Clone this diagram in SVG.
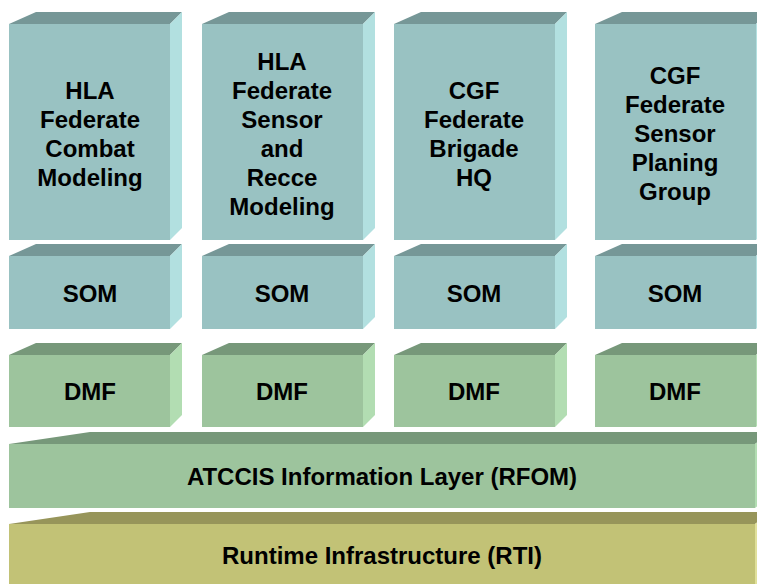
<svg xmlns="http://www.w3.org/2000/svg" width="757" height="584" viewBox="0 0 757 584">
  <style>
    .lbl { font-family: "Liberation Sans", Arial, sans-serif; font-weight: bold; font-size: 24px; fill: #000; text-anchor: middle; }
    .b-front { fill: #99C2C2; }
    .b-top { fill: #769797; }
    .b-side { fill: #B2E0E0; }
    .g-front { fill: #9DC49D; }
    .g-top { fill: #77987A; }
    .g-side { fill: #B2DDB2; }
    .y-front { fill: #C2C276; }
    .y-top { fill: #97955A; }
    .y-side { fill: #E0E09A; }
  </style>
  <rect width="757" height="584" fill="#fff"/>

  <!-- Federate boxes -->
  <g id="fed1">
    <polygon class="b-top" points="9,24 36,12 182,12 170,24"/>
    <polygon class="b-side" points="170,24 182,12 182,228 170,240"/>
    <rect class="b-front" x="9" y="24" width="161" height="216"/>
    <text class="lbl" x="90" y="99">HLA</text>
    <text class="lbl" x="90" y="128">Federate</text>
    <text class="lbl" x="90" y="157">Combat</text>
    <text class="lbl" x="90" y="186">Modeling</text>
  </g>
  <g id="fed2">
    <polygon class="b-top" points="202,24 229,12 375,12 363,24"/>
    <polygon class="b-side" points="363,24 375,12 375,228 363,240"/>
    <rect class="b-front" x="202" y="24" width="161" height="216"/>
    <text class="lbl" x="282" y="70">HLA</text>
    <text class="lbl" x="282" y="99">Federate</text>
    <text class="lbl" x="282" y="128">Sensor</text>
    <text class="lbl" x="282" y="157">and</text>
    <text class="lbl" x="282" y="186">Recce</text>
    <text class="lbl" x="282" y="215">Modeling</text>
  </g>
  <g id="fed3">
    <polygon class="b-top" points="394,24 421,12 567,12 555,24"/>
    <polygon class="b-side" points="555,24 567,12 567,228 555,240"/>
    <rect class="b-front" x="394" y="24" width="161" height="216"/>
    <text class="lbl" x="474" y="99">CGF</text>
    <text class="lbl" x="474" y="128">Federate</text>
    <text class="lbl" x="474" y="157">Brigade</text>
    <text class="lbl" x="474" y="186">HQ</text>
  </g>
  <g id="fed4">
    <polygon class="b-top" points="595,24 622,12 768,12 756,24"/>
    <polygon class="b-side" points="756,24 768,12 768,228 756,240"/>
    <rect class="b-front" x="595" y="24" width="161" height="216"/>
    <text class="lbl" x="675" y="84">CGF</text>
    <text class="lbl" x="675" y="113">Federate</text>
    <text class="lbl" x="675" y="142">Sensor</text>
    <text class="lbl" x="675" y="171">Planing</text>
    <text class="lbl" x="675" y="200">Group</text>
  </g>

  <!-- SOM boxes -->
  <g id="som1">
    <polygon class="b-top" points="9,256 36,244 182,244 170,256"/>
    <polygon class="b-side" points="170,256 182,244 182,317 170,329"/>
    <rect class="b-front" x="9" y="256" width="161" height="73"/>
    <text class="lbl" x="90" y="302">SOM</text>
  </g>
  <g id="som2">
    <polygon class="b-top" points="202,256 229,244 375,244 363,256"/>
    <polygon class="b-side" points="363,256 375,244 375,317 363,329"/>
    <rect class="b-front" x="202" y="256" width="161" height="73"/>
    <text class="lbl" x="282" y="302">SOM</text>
  </g>
  <g id="som3">
    <polygon class="b-top" points="394,256 421,244 567,244 555,256"/>
    <polygon class="b-side" points="555,256 567,244 567,317 555,329"/>
    <rect class="b-front" x="394" y="256" width="161" height="73"/>
    <text class="lbl" x="474" y="302">SOM</text>
  </g>
  <g id="som4">
    <polygon class="b-top" points="595,256 622,244 768,244 756,256"/>
    <polygon class="b-side" points="756,256 768,244 768,317 756,329"/>
    <rect class="b-front" x="595" y="256" width="161" height="73"/>
    <text class="lbl" x="675" y="302">SOM</text>
  </g>

  <!-- DMF boxes -->
  <g id="dmf1">
    <polygon class="g-top" points="9,355 36,343 182,343 170,355"/>
    <polygon class="g-side" points="170,355 182,343 182,415 170,427"/>
    <rect class="g-front" x="9" y="355" width="161" height="72"/>
    <text class="lbl" x="90" y="400">DMF</text>
  </g>
  <g id="dmf2">
    <polygon class="g-top" points="202,355 229,343 375,343 363,355"/>
    <polygon class="g-side" points="363,355 375,343 375,415 363,427"/>
    <rect class="g-front" x="202" y="355" width="161" height="72"/>
    <text class="lbl" x="282" y="400">DMF</text>
  </g>
  <g id="dmf3">
    <polygon class="g-top" points="394,355 421,343 567,343 555,355"/>
    <polygon class="g-side" points="555,355 567,343 567,415 555,427"/>
    <rect class="g-front" x="394" y="355" width="161" height="72"/>
    <text class="lbl" x="474" y="400">DMF</text>
  </g>
  <g id="dmf4">
    <polygon class="g-top" points="595,355 622,343 768,343 756,355"/>
    <polygon class="g-side" points="756,355 768,343 768,415 756,427"/>
    <rect class="g-front" x="595" y="355" width="161" height="72"/>
    <text class="lbl" x="675" y="400">DMF</text>
  </g>

  <!-- ATCCIS information layer -->
  <g id="rfom">
    <polygon class="g-top" points="9,444 90,432 770,432 755,444"/>
    <polygon class="g-side" points="755,444 770,432 770,496 755,508"/>
    <rect class="g-front" x="9" y="444" width="746" height="64"/>
    <text class="lbl" x="382" y="485">ATCCIS Information Layer (RFOM)</text>
  </g>

  <!-- Runtime infrastructure -->
  <g id="rti">
    <polygon class="y-top" points="9,524 90,512 770,512 755,524"/>
    <polygon class="y-side" points="755,524 770,512 770,584 755,584"/>
    <rect class="y-front" x="9" y="524" width="746" height="60"/>
    <text class="lbl" x="382" y="564">Runtime Infrastructure (RTI)</text>
  </g>

  <g id="connectors"/>
</svg>
